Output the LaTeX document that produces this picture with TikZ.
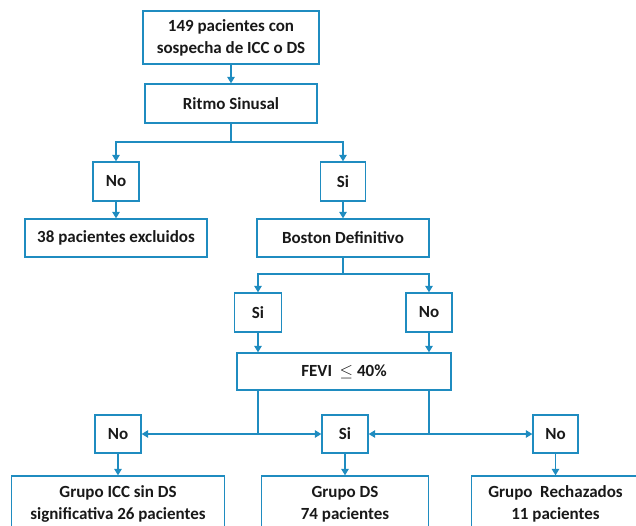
\documentclass[tikz,border=0pt]{standalone}
\usepackage{fontspec}
\setmainfont{Carlito}
\usetikzlibrary{arrows.meta}
\definecolor{flujo}{RGB}{31,140,192}
\definecolor{texto}{RGB}{25,25,25}

\begin{document}
\begin{tikzpicture}[x=1pt,y=-1pt,
  caja/.style={draw=flujo, line width=1.3pt, fill=white, inner sep=0pt,
    align=center, text=texto, font=\bfseries\fontsize{17}{22}\selectfont},
  linea/.style={draw=flujo, line width=1.3pt},
  flecha/.style={linea, -{Triangle[width=7.5pt,length=6.5pt]}}]

  \useasboundingbox (0,0) rectangle (636,525);

  % top of the chart
  \node[caja, minimum width=176pt, minimum height=53pt] (sospecha) at (231,37.5)
    {149 pacientes con\\sospecha de ICC o DS};
  \node[caja, minimum width=172pt, minimum height=39pt] (ritmo) at (231,103.5)
    {Ritmo Sinusal};

  % first split
  \node[caja, minimum width=46pt, minimum height=39pt] (no1) at (116,181.5) {No};
  \node[caja, minimum width=45pt, minimum height=39pt] (si1) at (343,181.5) {Si};
  \node[caja, minimum width=182pt, minimum height=38pt] (excluidos) at (116,238)
    {38 pacientes excluidos};
  \node[caja, minimum width=172pt, minimum height=38pt] (boston) at (343,238)
    {Boston Definitivo};

  % second split
  \node[caja, minimum width=47pt, minimum height=39pt] (si2) at (258,312.5) {Si};
  \node[caja, minimum width=46pt, minimum height=39pt] (no2) at (429,312.5) {No};
  \node[caja, minimum width=214pt, minimum height=37pt] (fevi) at (344,371.5)
    {FEVI \ $\leq$ 40\%};

  % third split
  \node[caja, minimum width=46pt, minimum height=38pt] (no3) at (118,434) {No};
  \node[caja, minimum width=46pt, minimum height=38pt] (si3) at (345,434) {Si};
  \node[caja, minimum width=45pt, minimum height=38pt] (no4) at (555.5,434) {No};

  % groups
  \node[caja, minimum width=213pt, minimum height=56pt] (icc) at (118,504)
    {Grupo ICC sin DS\\significativa 26 pacientes};
  \node[caja, minimum width=167pt, minimum height=56pt] (ds) at (345,504)
    {Grupo DS\\74 pacientes};
  \node[caja, minimum width=168pt, minimum height=56pt] (rechazados) at (555.5,504)
    {Grupo \ Rechazados\\11 pacientes};

  % connectors
  \coordinate (r1) at (231,142);
  \coordinate (b1) at (343,274);
  \coordinate (f1) at (258,434);
  \coordinate (f2) at (429,434);

  \draw[flecha] (sospecha) -- (ritmo);
  \draw[linea] (ritmo.south) -- (r1);
  \draw[flecha] (r1) -| (no1.north);
  \draw[flecha] (r1) -| (si1.north);
  \draw[flecha] (no1) -- (excluidos);
  \draw[flecha] (si1) -- (boston);

  \draw[linea] (boston.south) -- (b1);
  \draw[flecha] (b1) -| (si2.north);
  \draw[flecha] (b1) -| (no2.north);
  \draw[flecha] (si2) -- (si2 |- fevi.north);
  \draw[flecha] (no2) -- (no2 |- fevi.north);

  \draw[linea] (fevi.south -| f1) -- (f1);
  \draw[linea] (fevi.south -| f2) -- (f2);
  \draw[flecha] (f1) -- (no3);
  \draw[flecha] (f1) -- (si3);
  \draw[flecha] (f2) -- (si3);
  \draw[flecha] (f2) -- (no4);

  \draw[flecha] (no3) -- (icc);
  \draw[flecha] (si3) -- (ds);
  \draw[flecha] (no4) -- (rechazados);

\end{tikzpicture}
\end{document}
